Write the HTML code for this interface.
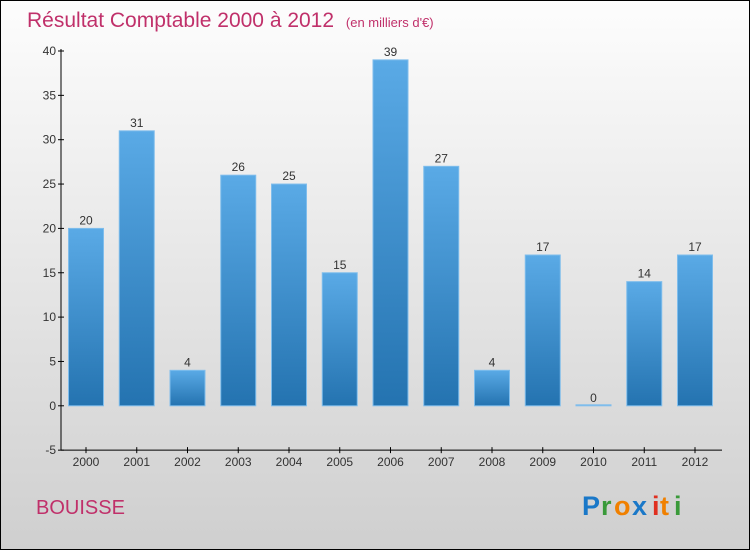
<!DOCTYPE html>
<html><head><meta charset="utf-8"><style>
html,body{margin:0;padding:0;}
body{width:750px;height:550px;overflow:hidden;font-family:"Liberation Sans",sans-serif;}
</style></head><body>
<svg width="750" height="550" xmlns="http://www.w3.org/2000/svg">
<defs>
<linearGradient id="bg" x1="0" y1="0" x2="0" y2="1"><stop offset="0" stop-color="#fdfdfd"/><stop offset="1" stop-color="#cfcfcf"/></linearGradient>
<linearGradient id="bar" x1="0" y1="0" x2="0" y2="1"><stop offset="0" stop-color="#5aaae6"/><stop offset="1" stop-color="#2473b0"/></linearGradient>
</defs>
<rect x="0.5" y="0.5" width="749" height="549" fill="url(#bg)" stroke="#000"/>
<text x="27" y="27" font-size="21" fill="#c0306a">Résultat Comptable 2000 à 2012 <tspan font-size="13" dx="6">(en milliers d'€)</tspan></text>
<g id="axes"></g>
<g id="bars"></g>
<text x="36" y="514" font-size="20" fill="#c0306a">BOUISSE</text>
<g font-size="27" font-weight="bold">
<text x="582" y="515" fill="#1a78c8">P</text><text x="601" y="515" fill="#3a9a3a">r</text><text x="614" y="515" fill="#f08000">o</text><text x="632" y="515" fill="#1a78c8">x</text><text x="652" y="515" fill="#e03020">i</text><text x="660" y="515" fill="#f08000">t</text><text x="674" y="515" fill="#3a9a3a">i</text>
</g>
</svg>
<script>
const years=["2000","2001","2002","2003","2004","2005","2006","2007","2008","2009","2010","2011","2012"];
const values=[20,31,4,26,25,15,39,27,4,17,0,14,17];
const yTicks=[-5,0,5,10,15,20,25,30,35,40];
const NS="http://www.w3.org/2000/svg";
const y0=405.8,pxPer=8.87;
function yS(v){return y0-v*pxPer;}
function xS(i){return 86+i*50.75;}
function mk(t,a,p,txt){const e=document.createElementNS(NS,t);for(const k in a)e.setAttribute(k,a[k]);if(txt!==undefined)e.textContent=txt;p.appendChild(e);return e;}
const ax=document.getElementById('axes'),bs=document.getElementById('bars');
const yl=mk('line',{x1:61,y1:yS(40)-2,x2:61,y2:yS(-5),stroke:'#000'},ax);


const xl=mk('line',{x1:61,y1:yS(-5),x2:722,y2:yS(-5),stroke:'#000'},ax);


yTicks.forEach(v=>{
 mk('line',{x1:58,y1:yS(v),x2:64,y2:yS(v),stroke:'#000'},ax);
 const t=mk('text',{x:56,y:yS(v)+4,'text-anchor':'end','font-size':12,fill:'#333'},ax,String(v));
 
 
});
years.forEach((y,i)=>{
 const x=xS(i);
 mk('line',{x1:x,y1:yS(-5)-3,x2:x,y2:yS(-5)+3,stroke:'#000'},ax);
 const t=mk('text',{x:x,y:466,'text-anchor':'middle','font-size':12,fill:'#333'},ax,y);
 
 
 const v=values[i];
 const top=yS(Math.max(v,0)),h=Math.max(Math.abs(v)*pxPer,1);
 const r=mk('rect',{x:x-17.5,y:v===0?y0-1:top,width:35,height:h,fill:'url(#bar)',stroke:'#7fbdec','stroke-width':1},bs);
 
 
 const l=mk('text',{x:x,y:(v===0?y0:top)-4,'text-anchor':'middle','font-size':12,fill:'#333'},bs,String(v));
 
 
});
</script>
</body></html>
